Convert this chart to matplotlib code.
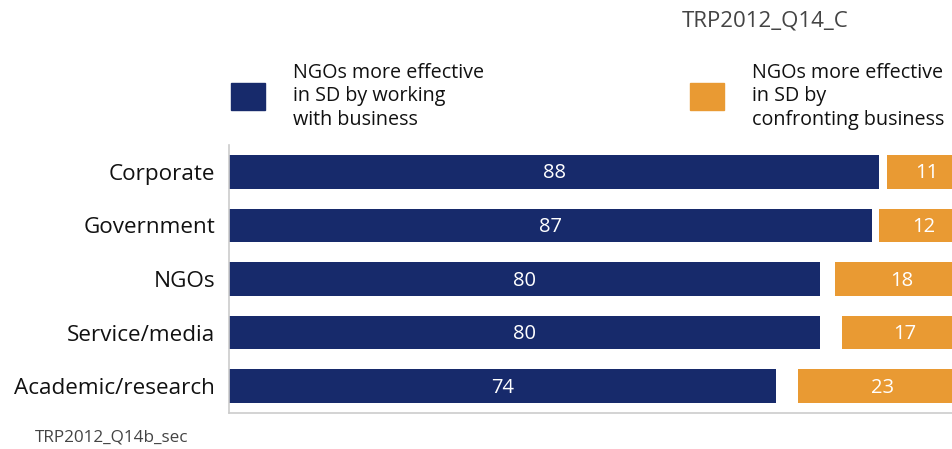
import numpy as np
import matplotlib.pyplot as plt
from matplotlib.patches import Rectangle

plt.rcParams['font.family'] = ['Open Sans', 'DejaVu Sans']

# Share of respondents (%) by stakeholder group
groups = ["Corporate", "Government", "NGOs", "Service/media", "Academic/research"]
working = [88, 87, 80, 80, 74]
confronting = [11, 12, 18, 17, 23]

navy = "#172a6b"
orange = "#e99a33"

fig = plt.figure(figsize=(9.53, 4.49), dpi=100)
ax = fig.add_axes([229 / 953, 36 / 449, 1 - 229 / 953, 268 / 449])

y = np.arange(len(groups))
h = 0.63
ax.barh(y, working, height=h, color=navy, left=0)
# orange bars run back from the 100% mark
conf = np.array(confronting)
ax.barh(y, conf, height=h, color=orange, left=100 - conf)

for i in range(len(groups)):
    ax.text(working[i] / 2, y[i] + 0.03, str(working[i]), color="white",
            ha="center", va="center", fontsize=14.5)
    ax.text(100 - confronting[i] / 2, y[i] + 0.03, str(confronting[i]), color="white",
            ha="center", va="center", fontsize=14.5)

ax.set_xlim(0, 98.0)
ax.set_ylim(len(groups) - 0.5, -0.5)
ax.set_yticks(y)
ax.set_yticklabels(groups, fontsize=16.2, color="#111111")
ax.set_xticks([])
ax.tick_params(axis="y", length=0, pad=10)
for s in ["top", "right"]:
    ax.spines[s].set_visible(False)
for s in ["left", "bottom"]:
    ax.spines[s].set_color("#cccccc")
    ax.spines[s].set_linewidth(1.2)

# legend boxes and captions
fig.patches.append(Rectangle((231 / 953, 1 - 110 / 449), 34 / 953, 27 / 449,
                             transform=fig.transFigure, color=navy))
fig.patches.append(Rectangle((690 / 953, 1 - 110 / 449), 34 / 953, 27 / 449,
                             transform=fig.transFigure, color=orange))
fig.text(293 / 953, 1 - 63 / 449, "NGOs more effective\nin SD by working\nwith business",
         ha="left", va="top", fontsize=14.2, color="#111111", linespacing=1.22)
fig.text(752 / 953, 1 - 63 / 449, "NGOs more effective\nin SD by\nconfronting business",
         ha="left", va="top", fontsize=14.2, color="#111111", linespacing=1.22)

fig.text(765 / 953, 1 - 21 / 449, "TRP2012_Q14_C", ha="center", va="center",
         fontsize=16, color="#444444")
fig.text(35 / 953, 1 - 438 / 449, "TRP2012_Q14b_sec", ha="left", va="center",
         fontsize=12.3, color="#444444")

fig.savefig("out.png", dpi=100)
